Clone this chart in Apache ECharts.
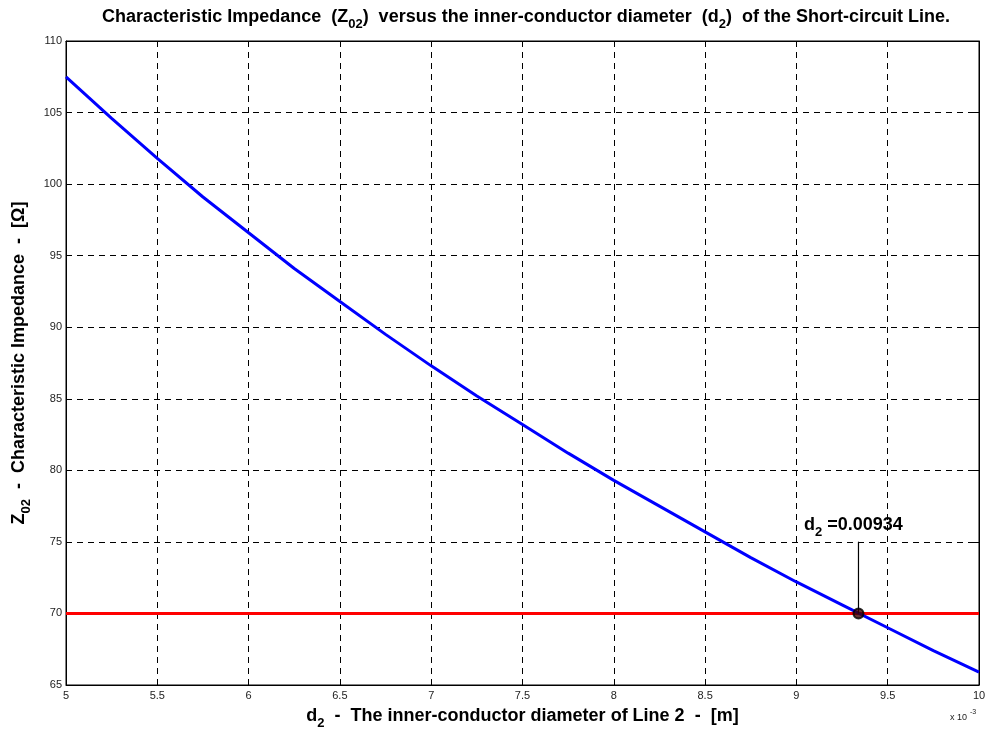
<!DOCTYPE html>
<html>
<head>
<meta charset="utf-8">
<script src="https://cdn.jsdelivr.net/npm/echarts@6/dist/echarts.min.js"></script>
<style>
  html, body { margin: 0; padding: 0; background: #fff; }
  #chart { width: 988px; height: 729px; }
</style>
</head>
<body>
<div id="chart"></div>
<script>
// Inner-conductor diameter d2, in units of 1e-3 m
const diameters = [5, 5.25, 5.5, 5.75, 6, 6.25, 6.5, 6.75, 7, 7.25, 7.5,
                   7.75, 8, 8.25, 8.5, 8.75, 9, 9.25, 9.5, 9.75, 10];
// Characteristic impedance Z02 [Ohm] at each diameter
const impedance = [107.5, 104.6, 101.8, 99.1, 96.6, 94.1, 91.8, 89.5, 87.3, 85.2, 83.2,
                   81.2, 79.3, 77.5, 75.7, 73.9, 72.2, 70.6, 69.0, 67.4, 65.9];
// Target impedance level [Ohm]
const targetZ = 70;
const targetRange = [5, 10];
// Solution point: d2 = 0.00934 m
const solutionD = 9.34;
const solutionLabel = '0.00934';
const leaderTop = 75;

const FONT = '"Liberation Sans", Arial, Helvetica, sans-serif';
const chart = echarts.init(document.getElementById('chart'));

const subRich = (size) => ({
  t: { fontFamily: FONT, fontWeight: 'bold', fontSize: size, color: '#000', lineHeight: size + 10, verticalAlign: 'middle' },
  s: { fontFamily: FONT, fontWeight: 'bold', fontSize: Math.round(size * 0.72), color: '#000', lineHeight: Math.round(size * 0.72), verticalAlign: 'bottom' }
});

const axisCommon = {
  axisLine: { show: true, onZero: false, lineStyle: { color: '#000', width: 1 } },
  axisTick: { show: true, inside: true, length: 5, lineStyle: { color: '#000' } },
  splitLine: { show: true, lineStyle: { color: '#000', type: [6, 5], width: 1 } }
};

chart.setOption({
  animation: false,
  backgroundColor: '#fff',
  grid: {
    left: 66, right: 9, top: 41, bottom: 44,
    outerBoundsMode: 'none', containLabel: false,
    show: true, borderColor: '#000', borderWidth: 1
  },
  title: {
    text: '{t|Characteristic Impedance  (Z}{s|02}{t|)  versus the inner-conductor diameter  (d}{s|2}{t|)  of the Short-circuit Line.}',
    left: 521, top: -2, textAlign: 'center',
    textStyle: { rich: subRich(18) }
  },
  xAxis: [{
    type: 'value', min: 5, max: 10, interval: 0.5, position: 'bottom',
    ...axisCommon,
    axisLabel: { color: '#222', fontFamily: FONT, fontSize: 11, margin: 5 },
    name: '{t|d}{s|2}{t|  -  The inner-conductor diameter of Line 2  -  [m]}',
    nameLocation: 'middle', nameGap: 17,
    nameTextStyle: { rich: subRich(18) }
  }, {
    type: 'value', min: 5, max: 10, interval: 0.5, position: 'top',
    axisLine: { show: true, lineStyle: { color: '#000' } },
    axisTick: { show: true, inside: true, length: 5, lineStyle: { color: '#000' } },
    axisLabel: { show: false }, splitLine: { show: false }
  }],
  yAxis: [{
    type: 'value', min: 65, max: 110, interval: 5, position: 'left',
    ...axisCommon,
    axisLabel: { color: '#222', fontFamily: FONT, fontSize: 11, margin: 4 },
    name: '{t|Z}{s|02}{t|  -  Characteristic Impedance  -  [Ω]}',
    nameLocation: 'middle', nameGap: 30, nameRotate: 90,
    nameTextStyle: { rich: subRich(18) }
  }, {
    type: 'value', min: 65, max: 110, interval: 5, position: 'right',
    axisLine: { show: true, lineStyle: { color: '#000' } },
    axisTick: { show: true, inside: true, length: 5, lineStyle: { color: '#000' } },
    axisLabel: { show: false }, splitLine: { show: false }
  }],
  graphic: [{
    type: 'group', left: 950, top: 709,
    children: [
      { type: 'text', x: 0, y: 4, style: { text: 'x 10', font: '9px ' + FONT, fill: '#222' } },
      { type: 'text', x: 20, y: 0, style: { text: '-3', font: '7px ' + FONT, fill: '#222' } }
    ]
  }],
  series: [
    {
      type: 'line', name: 'Z02', symbol: 'none',
      data: diameters.map((d, i) => [d, impedance[i]]),
      lineStyle: { color: '#0000ff', width: 3 }, z: 3
    },
    {
      type: 'line', name: 'target', symbol: 'none',
      data: targetRange.map(d => [d, targetZ]),
      lineStyle: { color: '#ff0000', width: 3 }, z: 2
    },
    {
      type: 'line', name: 'leader', symbol: 'none',
      data: [[solutionD, targetZ], [solutionD, leaderTop]],
      lineStyle: { color: '#000', width: 1.2 }, z: 4
    },
    {
      type: 'scatter', name: 'solution', symbol: 'circle', symbolSize: 10,
      data: [[solutionD, targetZ]],
      itemStyle: { color: '#400000', borderColor: '#000', borderWidth: 2 }, z: 5
    },
    {
      type: 'scatter', name: 'label', symbolSize: 1,
      data: [[solutionD, leaderTop]],
      itemStyle: { color: '#000', opacity: 1 },
      label: {
        show: true, position: 'top', distance: 2, offset: [-5, 0],
        color: '#000', opacity: 1,
        formatter: '{t|d}{s|2}{t| =' + solutionLabel + '}',
        rich: subRich(18)
      }, z: 6
    }
  ]
});
</script>
</body>
</html>
